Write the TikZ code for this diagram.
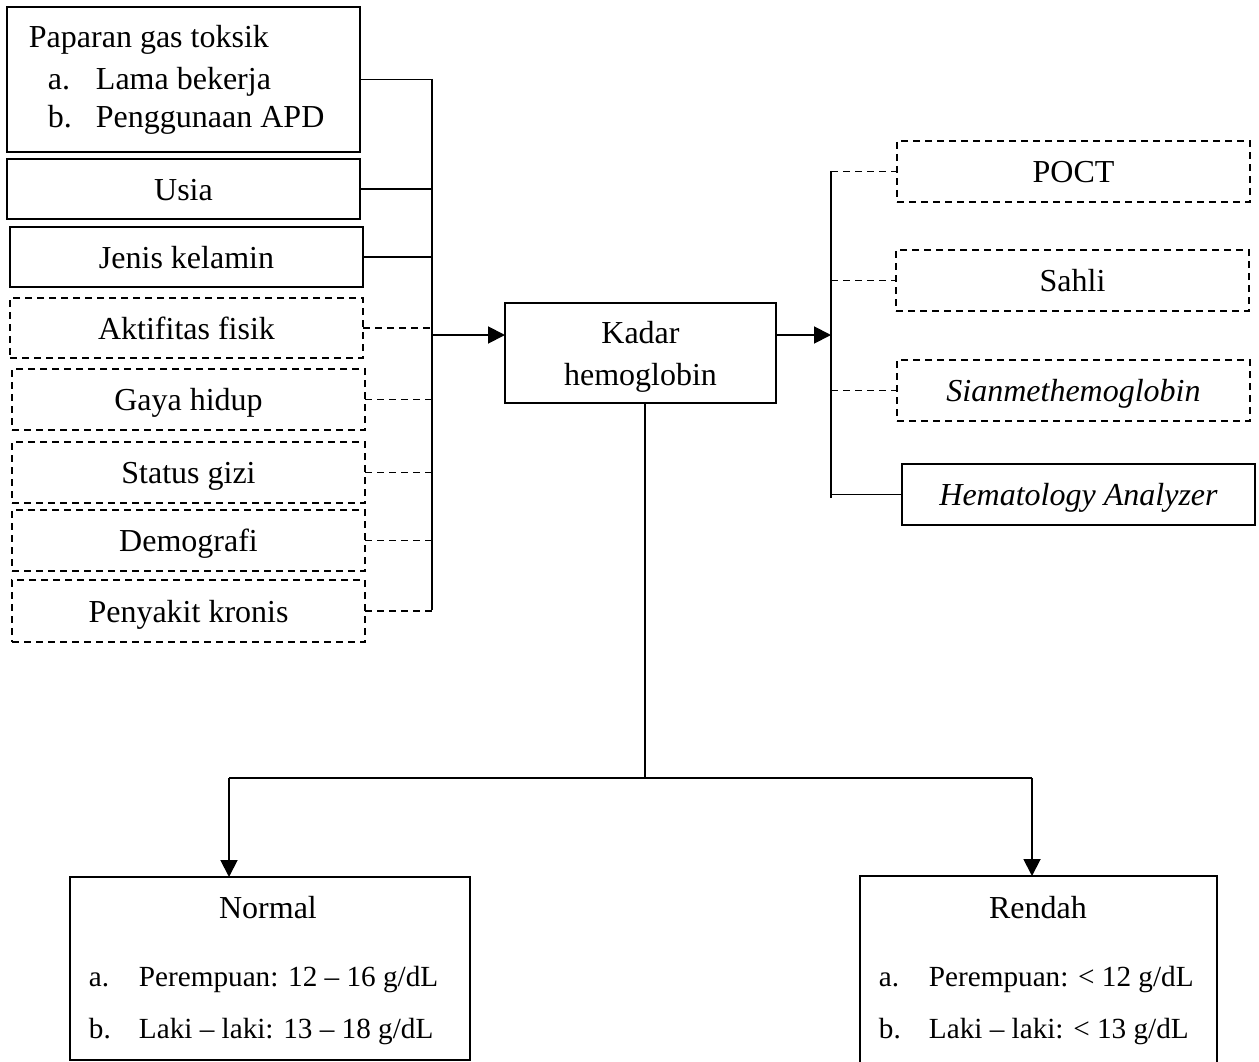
\documentclass[tikz,border=0pt]{standalone}
\usepackage{fontspec}
\setmainfont{Liberation Serif}
\usetikzlibrary{arrows.meta}
\begin{document}
\begin{tikzpicture}[x=1pt,y=-1pt,line width=1.9pt,
  box/.style={draw,rectangle,inner sep=0pt,outer sep=0pt,font=\fontsize{32}{40}\selectfont,text height=28.8pt,text depth=6.4pt},
  dbox/.style={box,dash pattern=on 7pt off 5pt},
  dline/.style={dash pattern=on 7pt off 5pt},
  lbox/.style={minimum width=353pt,minimum height=61pt},
  arr/.style={-{Triangle[length=17pt,width=17pt]}},
  txt/.style={inner sep=0pt,anchor=base west,font=\fontsize{32}{40}\selectfont},
  itm/.style={inner sep=0pt,anchor=base west,font=\fontsize{29.2}{36}\selectfont}]
\useasboundingbox (0,0) rectangle (1259,1062);

% left boxes
\node[box,minimum width=353pt,minimum height=145pt] (pap) at (183.5,79.5) {};
\node[txt] (papT) at (28,48) {Paparan gas toksik};
\node[txt] (papA) at (47,90) {a.};
\node[txt] (papAt) at (95,90) {Lama bekerja};
\node[txt] (papB) at (47,128) {b.};
\node[txt] (papBt) at (95,128) {Penggunaan APD};
\node[box,lbox,minimum height=60pt] (usia) at (183.5,189) {Usia};
\node[box,lbox,minimum height=60pt] (jenis) at (186.5,257) {Jenis kelamin};
\node[dbox,lbox,minimum height=60pt] (akt) at (186.5,328) {Aktifitas fisik};
\node[dbox,lbox] (gaya) at (188.5,399.5) {Gaya hidup};
\node[dbox,lbox] (status) at (188.5,472.5) {Status gizi};
\node[dbox,lbox] (demo) at (188.5,540.5) {Demografi};
\node[dbox,lbox,minimum height=62pt] (peny) at (188.5,611) {Penyakit kronis};

% centre box
\node[box,minimum width=271pt,minimum height=100pt] (kadar) at (640.5,353) {};
\node[txt,anchor=base] (kadarA) at (640.5,343) {Kadar};
\node[txt,anchor=base] (kadarB) at (640.5,385) {hemoglobin};

% right boxes
\node[dbox,lbox] (poct) at (1073.5,171.5) {POCT};
\node[dbox,lbox] (sahli) at (1072.5,280.5) {Sahli};
\node[dbox,lbox] (sian) at (1073.5,390.5) {\itshape Sianmethemoglobin};
\node[box,lbox] (hema) at (1078.5,494.5) {\itshape Hematology Analyzer};

% bottom boxes
\node[box,minimum width=400pt,minimum height=183pt] (normal) at (270,968.5) {};
\node[txt,anchor=base] (normalT) at (268,918) {Normal};
\node[itm] (nA) at (88,986) {a.};
\node[itm] (nAt) at (138,986) {Perempuan: 12 – 16 g/dL};
\node[itm] (nB) at (88,1038) {b.};
\node[itm] (nBt) at (138,1038) {Laki – laki: 13 – 18 g/dL};
\node[box,minimum width=357pt,minimum height=192pt] (rendah) at (1038.5,972) {};
\node[txt,anchor=base] (rendahT) at (1038,918) {Rendah};
\node[itm] (rA) at (878,986) {a.};
\node[itm] (rAt) at (928,986) {Perempuan: < 12 g/dL};
\node[itm] (rB) at (878,1038) {b.};
\node[itm] (rBt) at (928,1038) {Laki – laki: < 13 g/dL};

% left bus
\coordinate (bL) at (432,79);
\coordinate (bLb) at (432,610);
\draw (bL) -- (bLb);
\draw (pap.east) -- (pap.east -| bL);
\draw (usia.east) -- (usia.east -| bL);
\draw (jenis.east) -- (jenis.east -| bL);
\draw[dline] (akt.east) -- (akt.east -| bL);
\draw[dline] (gaya.east) -- (gaya.east -| bL);
\draw[dline] (status.east) -- (status.east -| bL);
\draw[dline] (demo.east) -- (demo.east -| bL);
\draw[dline] (peny.east) -- (peny.east -| bL);

% into and out of centre box
\coordinate (inK) at (432,335);
\draw[arr] (inK) -- (inK -| kadar.west);
\coordinate (bR) at (831,171);
\coordinate (bRb) at (831,498);
\draw[arr] (kadar.east |- inK) -- (bR |- inK);

% right bus
\draw (bR) -- (bRb);
\draw[dline] (bR |- poct.west) -- (poct.west);
\draw[dline] (bR |- sahli.west) -- (sahli.west);
\draw[dline] (bR |- sian.west) -- (sian.west);
\draw (bR |- hema.west) -- (hema.west);

% bottom
\coordinate (kb) at (645,778);
\coordinate (nl) at (229,778);
\coordinate (rl) at (1032,778);
\draw (kadar.south -| kb) -- (kb);
\draw (nl) -- (rl);
\draw[arr] (nl) -- (nl |- normal.north);
\draw[arr] (rl) -- (rl |- rendah.north);
\end{tikzpicture}
\end{document}
